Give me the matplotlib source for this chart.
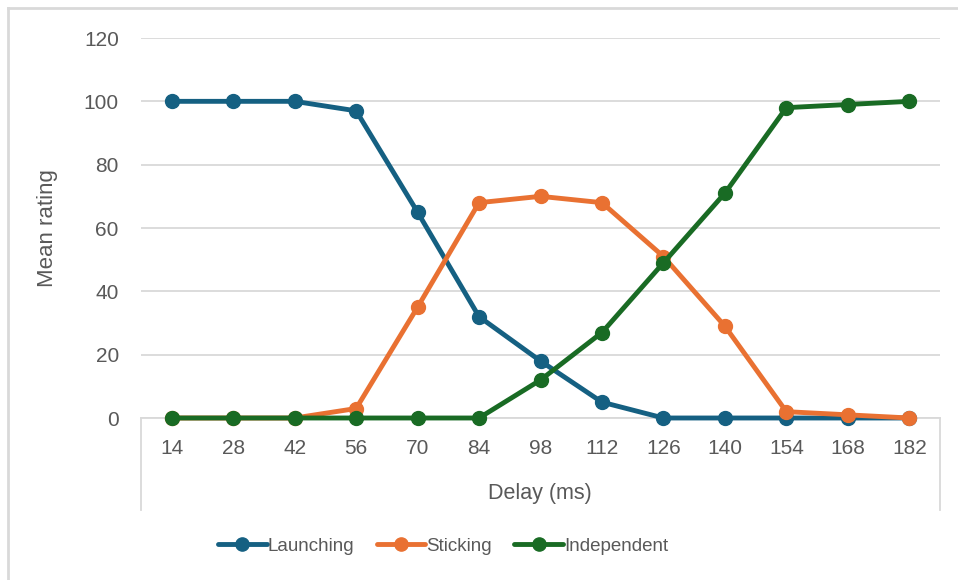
import matplotlib.pyplot as plt
from matplotlib.lines import Line2D
import numpy as np

plt.rcParams['font.family'] = ['Liberation Sans', 'DejaVu Sans']

# Delay categories and mean ratings per response type
delays = [14, 28, 42, 56, 70, 84, 98, 112, 126, 140, 154, 168, 182]
launching = [100, 100, 100, 97, 65, 32, 18, 5, 0, 0, 0, 0, 0]
sticking = [0, 0, 0, 3, 35, 68, 70, 68, 51, 29, 2, 1, 0]
independent = [0, 0, 0, 0, 0, 0, 12, 27, 49, 71, 98, 99, 100]

series_names = ['Launching', 'Sticking', 'Independent']
colors = ['#156082', '#E97132', '#196B24']
y_ticks = [0, 20, 40, 60, 80, 100, 120]

W, H = 958, 580
fig = plt.figure(figsize=(W / 100, H / 100), dpi=100)
fig.patch.set_facecolor('white')

# plot area in pixel coordinates
left, right, top, bottom = 141, 940, 38, 418
ax = fig.add_axes([left / W, 1 - bottom / H, (right - left) / W, (bottom - top) / H])

index = np.arange(len(delays))
for vals, name, c in zip([launching, sticking, independent], series_names, colors):
    ax.plot(index, vals, color=c, lw=3.5, marker='o', markersize=10,
            label=name, solid_capstyle='round', clip_on=False, zorder=3)

ax.set_xlim(-0.5, len(delays) - 0.5)
ax.set_ylim(0, 120)
ax.set_yticks(y_ticks)
ax.set_yticklabels([str(v) for v in y_ticks], fontsize=15, color='#595959')
ax.set_xticks(index)
ax.set_xticklabels([str(d) for d in delays], fontsize=15, color='#595959')
ax.tick_params(axis='both', length=0)
ax.tick_params(axis='y', pad=16)
ax.tick_params(axis='x', pad=15)

ax.grid(axis='y', color='#d9d9d9', lw=1.3, zorder=0)
for s in ['top', 'right', 'left']:
    ax.spines[s].set_visible(False)
ax.spines['bottom'].set_color('#d9d9d9')
ax.spines['bottom'].set_linewidth(1.3)

# side lines of the category axis box
for xp in [left, right]:
    fig.add_artist(Line2D([xp / W, xp / W], [1 - bottom / H, 1 - 510 / H],
                          color='#d9d9d9', lw=1.3))

ax.set_ylabel('Mean rating', fontsize=16, color='#595959')
ax.yaxis.set_label_coords((58 - left) / (right - left), 0.5)
fig.text(540 / W, 1 - 493 / H, 'Delay (ms)', fontsize=15.5, color='#595959',
         ha='center', va='center')

fig.legend(loc='center', bbox_to_anchor=(443 / W, 1 - 546 / H), ncol=3,
           frameon=False, fontsize=13.5, handlelength=2.6, handletextpad=0.05,
           columnspacing=1.2, labelcolor='#595959', markerscale=0.95)

# outer chart border
fig.add_artist(Line2D([8 / W, 8 / W], [0, 1 - 8 / H], color='#d9d9d9', lw=2))
fig.add_artist(Line2D([8 / W, 1], [1 - 8 / H, 1 - 8 / H], color='#d9d9d9', lw=2))

fig.savefig('out.png', dpi=100, facecolor='white')
